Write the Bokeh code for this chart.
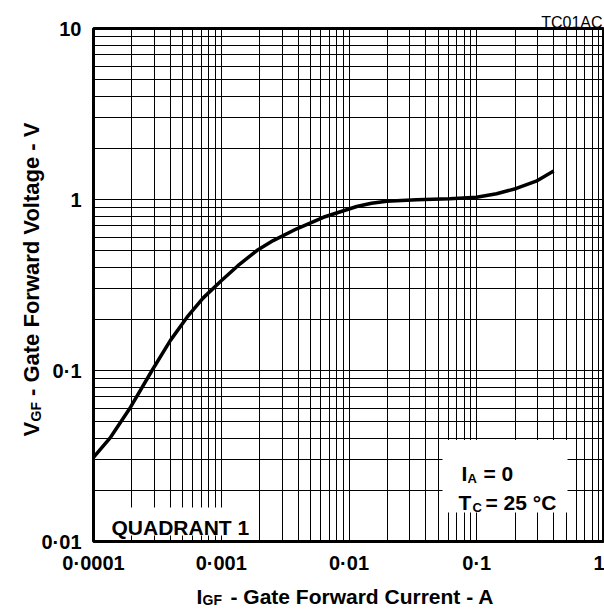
import math
from bokeh.plotting import figure
from bokeh.models import Range1d, FixedTicker, Label, BoxAnnotation
from bokeh.core.properties import value
from bokeh.embed import file_html
from bokeh.resources import INLINE

# ---- data ----
gate_current_a = [1e-4, 1.36e-4, 1.95e-4, 2.87e-4, 4.0e-4, 5.4e-4, 7.2e-4, 1.0e-3,
                  1.35e-3, 1.9e-3, 2.55e-3, 3.9e-3, 6.3e-3, 1.15e-2, 1.5e-2, 1.97e-2,
                  3.38e-2, 6.15e-2, 0.0995, 0.143, 0.204, 0.292, 0.40]
gate_voltage_v = [0.031, 0.0407, 0.061, 0.100, 0.150, 0.205, 0.265, 0.335,
                  0.410, 0.503, 0.575, 0.674, 0.787, 0.910, 0.950, 0.977,
                  0.996, 1.010, 1.030, 1.080, 1.160, 1.280, 1.470]

x_tick_values = [1e-4, 1e-3, 1e-2, 1e-1, 1.0]
x_tick_labels = ["0·0001", "0·001", "0·01", "0·1", "1"]
y_tick_values = [0.01, 0.1, 1.0, 10.0]
y_tick_labels = ["0·01", "0·1", "1", "10"]
x_minor_ticks = [m * 10.0 ** e for e in range(-4, 0) for m in range(2, 10)]
y_minor_ticks = [m * 10.0 ** e for e in range(-2, 1) for m in range(2, 10)]

FONT = "Liberation Sans"
X0, X1 = x_tick_values[0], x_tick_values[-1]
Y0, Y1 = y_tick_values[0], y_tick_values[-1]

p = figure(width=604, height=612, x_axis_type="log", y_axis_type="log",
           x_range=Range1d(X0, X1), y_range=Range1d(Y0, Y1),
           output_backend="svg", toolbar_location=None,
           min_border_left=93, min_border_right=0, min_border_top=28, min_border_bottom=71)
p.background_fill_color = "white"
p.border_fill_color = "white"
p.outline_line_color = "black"
p.outline_line_width = 3

xt = FixedTicker(ticks=x_tick_values, minor_ticks=x_minor_ticks)
yt = FixedTicker(ticks=y_tick_values, minor_ticks=y_minor_ticks)
p.xaxis.ticker = xt
p.yaxis.ticker = yt
p.xgrid.ticker = xt
p.ygrid.ticker = yt
p.xaxis.major_label_overrides = dict(zip(x_tick_values, x_tick_labels))
p.yaxis.major_label_overrides = dict(zip(y_tick_values, y_tick_labels))

for ax in (p.xaxis[0], p.yaxis[0]):
    ax.axis_line_color = None
    ax.major_tick_in = 6
    ax.major_tick_out = 0
    ax.minor_tick_in = 6
    ax.minor_tick_out = 0
    ax.major_tick_line_color = "black"
    ax.minor_tick_line_color = "black"
    ax.major_label_text_font = FONT
    ax.major_label_text_font_size = "20px"
    ax.major_label_text_font_style = "bold"
    ax.major_label_text_color = "black"
p.xaxis.major_label_standoff = 10
p.yaxis.major_label_standoff = 12

for g in (p.xgrid[0], p.ygrid[0]):
    g.grid_line_color = "black"
    g.grid_line_width = 1
    g.grid_line_alpha = 1.0
    g.minor_grid_line_color = "black"
    g.minor_grid_line_width = 1
    g.minor_grid_line_alpha = 1.0

p.line(gate_current_a, gate_voltage_v, line_color="black", line_width=3.5)

# white panels behind annotations
for l, r, b, t in [(2, 162, 2, 34), (349, 474, 29, 101.5)]:
    p.add_layout(BoxAnnotation(left=l, right=r, bottom=b, top=t,
                               left_units="screen", right_units="screen",
                               bottom_units="screen", top_units="screen",
                               fill_color="white", fill_alpha=1.0, line_color=None,
                               level="glyph"))


def lab(text, x, y, size, bold=True):
    p.add_layout(Label(x=x, y=y, x_units="screen", y_units="screen", text=text,
                       text_font=FONT, text_font_size=f"{size}px",
                       text_font_style="bold" if bold else "normal",
                       text_color="black", text_align="left",
                       text_baseline="alphabetic"))


# inside the frame (origin: frame bottom-left)
lab("QUADRANT 1", 18, 14, 21)
lab("I", 368, 68, 21)
lab("A", 374, 63, 13)
lab("= 0", 390, 68, 21)
lab("T", 365, 39, 21)
lab("C", 379, 34, 13)
lab("= 25 °C", 392, 39, 21)


def outside(text, dx, dy, size, bold=True, angle=0.0, align="left"):
    # anchored at the frame's bottom-left corner, shifted in pixels (y down)
    p.text(x=[X0], y=[Y0], text=[text], x_offset=dx, y_offset=dy, angle=angle,
           text_font=value(FONT), text_font_size=value(f"{size}px"),
           text_font_style="bold" if bold else "normal", text_color="black",
           text_align=align, text_baseline="alphabetic", level="overlay")


outside("TC01AC", 509, -519.3, 16, bold=False, align="right")

# x axis title
outside("I", 103, 55, 21)
outside("GF", 109, 58.5, 14)
outside("- Gate Forward Current - A", 137, 55, 21)

# y axis title (rotated)
A = math.pi / 2
outside("V", -62, -105, 22, angle=A)
outside("GF", -58, -120, 14, angle=A)
outside("- Gate Forward Voltage - V", -62, -145.5, 22, angle=A)

open("out.html", "w").write(file_html(p, INLINE))
